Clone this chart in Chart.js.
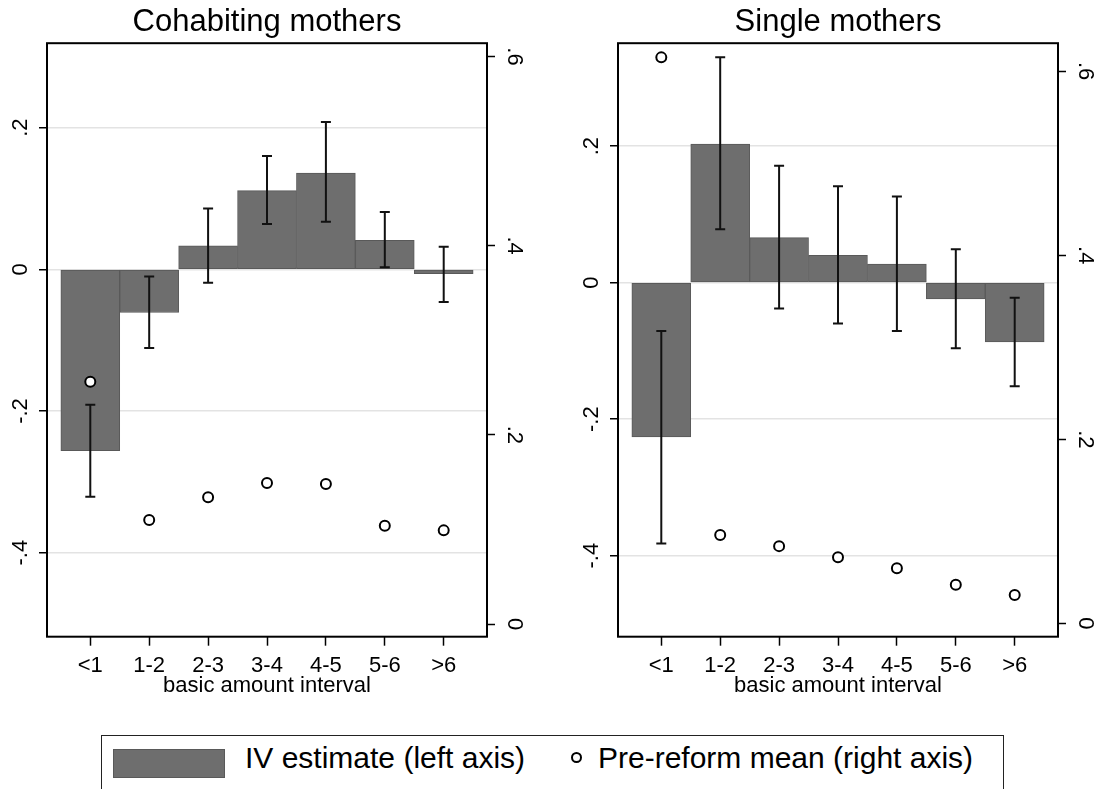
<!DOCTYPE html>
<html>
<head>
<meta charset="utf-8">
<script src="https://cdn.jsdelivr.net/npm/chart.js@4/dist/chart.umd.min.js"></script>
<style>
  html, body { margin: 0; padding: 0; background: #fff; overflow: hidden; }
  #page { position: relative; width: 1097px; height: 789px; overflow: hidden; font-family: "Liberation Sans", Arial, sans-serif; color: #000; }
  .panel { position: absolute; top: 0; width: 534px; height: 705px; }
  #leftPanel { left: 0; }
  #rightPanel { left: 571px; }
  .legend { position: absolute; left: 101px; top: 735px; width: 903px; height: 70px; border: 1.5px solid #222; box-sizing: border-box; }
  .swatch { position: absolute; left: 113px; top: 749px; width: 112px; height: 29px; background: #6e6e6e; border: 1px solid #595959; box-sizing: border-box; }
  .dot { position: absolute; left: 571px; top: 752px; width: 11px; height: 11px; border: 2px solid #000; border-radius: 50%; box-sizing: border-box; background: #fff; }
  .ltext { position: absolute; top: 743px; font-size: 30px; line-height: 30px; white-space: nowrap; }
</style>
</head>
<body>
<div id="page">
  <div class="panel" id="leftPanel"><canvas id="cohabChart" width="534" height="705"></canvas></div>
  <div class="panel" id="rightPanel"><canvas id="singleChart" width="534" height="705"></canvas></div>
  <div class="legend"></div>
  <div class="swatch"></div>
  <span class="ltext" style="left:245px">IV estimate (left axis)</span>
  <div class="dot"></div>
  <span class="ltext" style="left:598px">Pre-reform mean (right axis)</span>
</div>
<script>
const categories = ["<1", "1-2", "2-3", "3-4", "4-5", "5-6", ">6"];

// Cohabiting mothers
const cohabIV = [-0.256, -0.061, 0.033, 0.111, 0.136, 0.041, -0.006];
const cohabLo = [-0.321, -0.111, -0.019, 0.064, 0.067, 0.003, -0.046];
const cohabHi = [-0.191, -0.010, 0.086, 0.160, 0.208, 0.081, 0.032];
const cohabPre = [0.256, 0.110, 0.134, 0.149, 0.148, 0.104, 0.099];

// Single mothers
const singleIV = [-0.226, 0.203, 0.066, 0.040, 0.027, -0.024, -0.087];
const singleLo = [-0.382, 0.078, -0.038, -0.060, -0.071, -0.096, -0.152];
const singleHi = [-0.071, 0.330, 0.171, 0.141, 0.126, 0.049, -0.022];
const singlePre = [0.615, 0.096, 0.084, 0.072, 0.060, 0.042, 0.031];

const leftTicks = [-0.4, -0.2, 0, 0.2];
const rightTicks = [0, 0.2, 0.4, 0.6];

const FONT = "'Liberation Sans', Arial, sans-serif";
Chart.defaults.font.family = FONT;
Chart.defaults.color = "#000";

// Stata style tick labels: .2, -.4, 0
function stataNum(v) {
  if (Math.abs(v) < 1e-9) return "0";
  return String(Math.round(v * 10) / 10).replace("0.", ".");
}

// draw the confidence bars right after the bars, before the circles
const errorBarPlugin = {
  id: "errorBars",
  afterDatasetDraw(chart, args) {
    const ds = chart.data.datasets[args.index];
    if (ds.type !== "bar") return;
    const ctx = chart.ctx;
    const xs = chart.scales.x;
    const ys = chart.scales.yL;
    ctx.save();
    ctx.strokeStyle = "#111";
    ctx.lineWidth = 2;
    for (let i = 0; i < ds.errLo.length; i++) {
      const x = xs.getPixelForValue(i + 1);
      const yTop = ys.getPixelForValue(ds.errHi[i]);
      const yBot = ys.getPixelForValue(ds.errLo[i]);
      ctx.beginPath();
      ctx.moveTo(x, yTop);
      ctx.lineTo(x, yBot);
      ctx.moveTo(x - 5, yTop);
      ctx.lineTo(x + 5, yTop);
      ctx.moveTo(x - 5, yBot);
      ctx.lineTo(x + 5, yBot);
      ctx.stroke();
    }
    ctx.restore();
  }
};

const framePlugin = {
  id: "frame",
  afterDatasetsDraw(chart) {
    const a = chart.chartArea;
    const ctx = chart.ctx;
    ctx.save();
    ctx.strokeStyle = "#000";
    ctx.lineWidth = 2;
    ctx.strokeRect(a.left, a.top, a.right - a.left, a.bottom - a.top);
    ctx.restore();
  }
};

function makePanel(canvasId, title, iv, lo, hi, pre, leftMin, leftMax, rightMin, rightMax) {
  const ctx = document.getElementById(canvasId).getContext("2d");
  const tickFont = { size: 22, family: FONT };

  return new Chart(ctx, {
    type: "bar",
    data: {
      datasets: [
        {
          type: "scatter",
          label: "Pre-reform mean (right axis)",
          data: pre.map((v, i) => ({ x: i + 1, y: v })),
          yAxisID: "yR",
          pointRadius: 5,
          pointHoverRadius: 5,
          pointBorderWidth: 2,
          pointBackgroundColor: "#fff",
          pointBorderColor: "#000"
        },
        {
          type: "bar",
          label: "IV estimate (left axis)",
          data: iv.map((v, i) => ({ x: i + 1, y: v })),
          errLo: lo,
          errHi: hi,
          yAxisID: "yL",
          backgroundColor: "#6e6e6e",
          borderColor: "#595959",
          borderWidth: 1,
          borderSkipped: false,
          barPercentage: 1,
          categoryPercentage: 1
        }
      ]
    },
    options: {
      responsive: false,
      animation: false,
      layout: { padding: 0 },
      plugins: {
        legend: { display: false },
        tooltip: { enabled: false },
        title: {
          display: true,
          text: title,
          color: "#000",
          font: { size: 31, family: FONT, weight: "normal" },
          padding: { top: 4, bottom: 2 }
        }
      },
      scales: {
        x: {
          type: "linear",
          offset: false,
          min: 0.265,
          max: 7.735,
          afterBuildTicks: (scale) => {
            scale.ticks = categories.map((c, i) => ({ value: i + 1 }));
          },
          ticks: {
            callback: (v) => categories[v - 1],
            font: tickFont,
            color: "#000",
            padding: 7,
            autoSkip: false,
            maxRotation: 0
          },
          grid: { offset: false, drawOnChartArea: false, tickLength: 9, tickColor: "#000", tickWidth: 1.5 },
          border: { display: false },
          title: {
            display: true,
            text: "basic amount interval",
            font: tickFont,
            color: "#000",
            padding: { top: 0, bottom: 6 }
          },
          afterFit: (scale) => { scale.height = 68.3; }
        },
        yL: {
          position: "left",
          min: leftMin,
          max: leftMax,
          afterBuildTicks: (scale) => {
            scale.ticks = leftTicks.map(v => ({ value: v }));
          },
          ticks: {
            callback: stataNum,
            font: tickFont,
            color: "#000",
            minRotation: 90,
            maxRotation: 90,
            crossAlign: "center",
            padding: 5
          },
          grid: { color: "#e3e3e3", lineWidth: 1.5, tickLength: 8, tickColor: "#000", tickWidth: 1.5 },
          border: { display: false },
          afterFit: (scale) => { scale.width = 47; }
        },
        yR: {
          position: "right",
          min: rightMin,
          max: rightMax,
          afterBuildTicks: (scale) => {
            scale.ticks = rightTicks.map(v => ({ value: v }));
          },
          ticks: {
            callback: stataNum,
            font: tickFont,
            color: "#000",
            minRotation: -90,
            maxRotation: -90,
            crossAlign: "center",
            padding: 10
          },
          grid: { drawOnChartArea: false, tickLength: 8, tickColor: "#000", tickWidth: 1.5 },
          border: { display: false },
          afterFit: (scale) => { scale.width = 47; }
        }
      }
    },
    plugins: [errorBarPlugin, framePlugin]
  });
}

makePanel("cohabChart", "Cohabiting mothers", cohabIV, cohabLo, cohabHi, cohabPre, -0.5186, 0.3192, -0.0134, 0.614);
makePanel("singleChart", "Single mothers", singleIV, singleLo, singleHi, singlePre, -0.5187, 0.3507, -0.0144, 0.6304);
</script>
</body>
</html>
